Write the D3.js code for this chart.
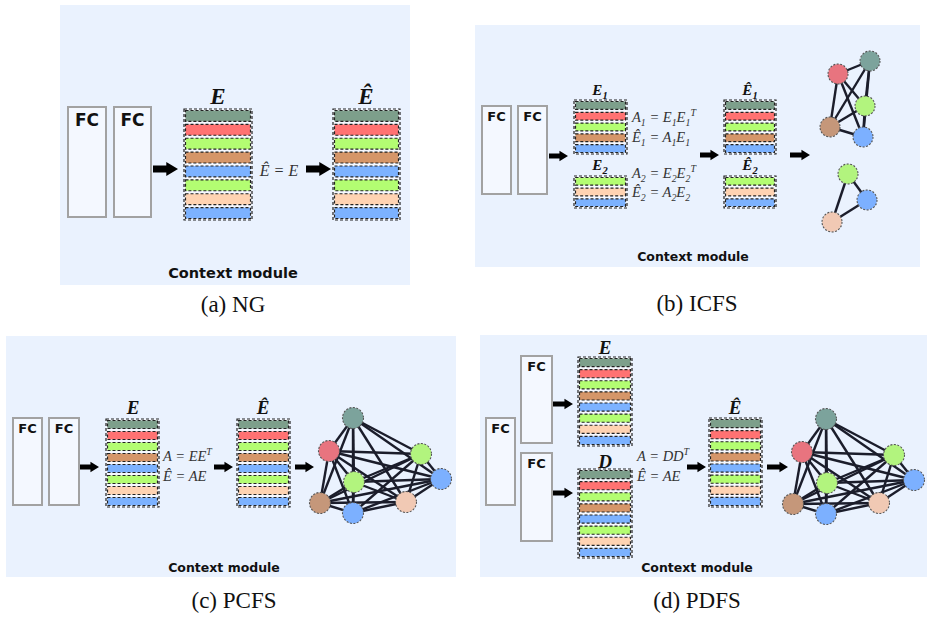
<!DOCTYPE html>
<html>
<head>
<meta charset="utf-8">
<script src="https://cdn.jsdelivr.net/npm/d3@7"></script>
<style>
  body { margin: 0; background: #fff; }
  svg { display: block; }
</style>
</head>
<body>
<div id="fig"></div>
<script>
// --- contenu du schéma ---
var stackFull = ["teal", "red", "green", "brown", "blue", "green", "peach", "blue"];
var stackE1 = ["teal", "red", "green", "brown", "blue"];
var stackE2 = ["green", "peach", "blue"];
var graphK5 = ["red", "teal", "green", "brown", "blue"];
var graphK3 = ["green", "blue", "peach"];
var graphK8 = ["teal", "red", "green", "green", "blue", "brown", "blue", "peach"];
var captions = ["(a) NG", "(b) ICFS", "(c) PCFS", "(d) PDFS"];
var moduleTitle = "Context module";
var fcLabel = "FC";

// couleurs
var barColor = { teal: "#7d9f8b", red: "#ff7272", green: "#b3fd72", brown: "#d59669", blue: "#7cb2ff", peach: "#ffd3b2" };
var nodeColor = { teal: "#7ca39c", red: "#e8747f", green: "#b2f47e", brown: "#c5977a", blue: "#7cb0ff", peach: "#f1c9b4" };

var width = 927, height = 617;
var svg = d3.select("#fig").append("svg").attr("width", width).attr("height", height);

var SANS = "DejaVu Sans";
var SERIF = "Liberation Serif";

function panelBg(x, y, w, h) {
  svg.append("rect").attr("x", x).attr("y", y).attr("width", w).attr("height", h).attr("fill", "#eaf2fe");
}

function fcBox(x, y, w, h, fs) {
  svg.append("rect").attr("x", x).attr("y", y).attr("width", w).attr("height", h)
    .attr("fill", "#f4f8ff").attr("stroke", "#a2a2a2").attr("stroke-width", 2);
  svg.append("text").attr("x", x + w / 2).attr("y", y + fs + 2).attr("text-anchor", "middle")
    .attr("font-family", SANS).attr("font-weight", "bold").attr("font-size", fs).attr("fill", "#111")
    .text(fcLabel);
}

// pile de vecteurs (barres colorées) via une échelle de bandes
function drawStack(x, y0, y1, w, cols) {
  var yb = d3.scaleBand().domain(d3.range(cols.length)).range([y0, y1]);
  svg.append("rect").attr("x", x).attr("y", y0).attr("width", w).attr("height", y1 - y0)
    .attr("fill", "#f5f8ff").attr("stroke", "#222").attr("stroke-width", 1.2).attr("stroke-dasharray", "3,2");
  svg.append("g").selectAll("rect").data(cols).enter().append("rect")
    .attr("x", x + 1.5)
    .attr("y", function(d, i) { return yb(i) + 1.5; })
    .attr("width", w - 3)
    .attr("height", yb.bandwidth() - 3)
    .attr("fill", function(d) { return barColor[d]; })
    .attr("stroke", "#222").attr("stroke-width", 1.2).attr("stroke-dasharray", "3,2");
}

function arrow(x1, x2, y, s) {
  var hl = s * 0.45, sh = s * 0.13, hh = s * 0.27;
  var p = "M" + x1 + "," + (y - sh) + "L" + (x2 - hl) + "," + (y - sh) + "L" + (x2 - hl) + "," + (y - hh) +
    "L" + x2 + "," + y + "L" + (x2 - hl) + "," + (y + hh) + "L" + (x2 - hl) + "," + (y + sh) +
    "L" + x1 + "," + (y + sh) + "Z";
  svg.append("path").attr("d", p).attr("fill", "#000");
}

function label(x, y, fs, str) {
  svg.append("text").attr("x", x).attr("y", y).attr("text-anchor", "middle")
    .attr("font-family", SERIF).attr("font-style", "italic").attr("font-weight", "bold")
    .attr("font-size", fs).attr("fill", "#111").text(str);
}

function subLabel(x, y, fs, str, sub) {
  var t = svg.append("text").attr("x", x).attr("y", y).attr("text-anchor", "middle")
    .attr("font-family", SERIF).attr("font-style", "italic").attr("font-weight", "bold")
    .attr("font-size", fs).attr("fill", "#111");
  t.append("tspan").text(str);
  t.append("tspan").attr("dy", fs * 0.25).attr("font-size", fs * 0.7).text(sub);
}

// ligne mathématique: chaines normales, {sub:..} ou {sup:..}
function mathLine(x, y, fs, tokens, anchor) {
  var t = svg.append("text").attr("x", x).attr("y", y).attr("text-anchor", anchor || "start")
    .attr("font-family", SERIF).attr("font-style", "italic").attr("font-size", fs).attr("fill", "#333");
  var shift = 0;
  tokens.forEach(function(tok) {
    var s, target, size;
    if (typeof tok === "string") { s = tok; target = 0; size = fs; }
    else if (tok.sub !== undefined) { s = tok.sub; target = fs * 0.28; size = fs * 0.68; }
    else { s = tok.sup; target = -fs * 0.42; size = fs * 0.68; }
    t.append("tspan").attr("dy", target - shift).attr("font-size", size).text(s);
    shift = target;
  });
}

function graph(cols, pos, dx, dy, r, sw) {
  var nodes = cols.map(function(c, i) { return { c: c, x: pos[i][0] + dx, y: pos[i][1] + dy }; });
  var edges = [];
  for (var i = 0; i < nodes.length; i++)
    for (var j = i + 1; j < nodes.length; j++) edges.push([nodes[i], nodes[j]]);
  svg.append("g").selectAll("line").data(edges).enter().append("line")
    .attr("x1", function(d) { return d[0].x; }).attr("y1", function(d) { return d[0].y; })
    .attr("x2", function(d) { return d[1].x; }).attr("y2", function(d) { return d[1].y; })
    .attr("stroke", "#1b1d2b").attr("stroke-width", sw);
  svg.append("g").selectAll("circle").data(nodes).enter().append("circle")
    .attr("cx", function(d) { return d.x; }).attr("cy", function(d) { return d.y; }).attr("r", r)
    .attr("fill", function(d) { return nodeColor[d.c]; })
    .attr("stroke", "#555").attr("stroke-width", 1.1).attr("stroke-dasharray", "2,1.5");
}

function title(x, y, fs) {
  svg.append("text").attr("x", x).attr("y", y).attr("text-anchor", "middle")
    .attr("font-family", SANS).attr("font-weight", "bold").attr("font-size", fs).attr("fill", "#111")
    .text(moduleTitle);
}

function caption(x, y, str) {
  svg.append("text").attr("x", x).attr("y", y).attr("text-anchor", "middle")
    .attr("font-family", SERIF).attr("font-size", 23).attr("fill", "#111").text(str);
}

// positions des noeuds
var posK5 = [[838, 74], [870, 61], [865, 106], [830, 127], [863, 137]];
var posK3 = [[848, 174], [867, 200], [832, 222]];
var posK8 = [[353, 418], [329, 451], [421, 454], [354, 482], [441, 479], [320, 503], [353, 513], [406, 502]];

// (a) NG
panelBg(60, 5, 350, 280);
fcBox(68, 107, 38, 110, 17);
fcBox(114, 107, 37, 110, 17);
arrow(153, 178, 169, 26);
drawStack(184, 109, 220, 68, stackFull);
label(218, 104, 23, "E");
mathLine(279, 176, 16, ["Ê = E"], "middle");
arrow(306, 331, 169, 26);
drawStack(333, 109, 220, 67, stackFull);
label(366, 104, 23, "Ê");
title(233, 278, 14.5);
caption(233, 312, captions[0]);

// (b) ICFS
panelBg(475, 25, 445, 242);
fcBox(482, 106, 29, 88, 13);
fcBox(518, 106, 29, 88, 13);
arrow(549, 568, 156, 19);
drawStack(574, 100, 154, 53, stackE1);
subLabel(600, 95, 15, "E", "1");
drawStack(574, 176, 208, 53, stackE2);
subLabel(600, 170, 15, "E", "2");
mathLine(632, 122, 14.5, ["A", { sub: "1" }, " = E", { sub: "1" }, "E", { sub: "1" }, { sup: "T" }]);
mathLine(632, 142, 14.5, ["Ê", { sub: "1" }, " = A", { sub: "1" }, "E", { sub: "1" }]);
mathLine(632, 178, 14.5, ["A", { sub: "2" }, " = E", { sub: "2" }, "E", { sub: "2" }, { sup: "T" }]);
mathLine(632, 197, 14.5, ["Ê", { sub: "2" }, " = A", { sub: "2" }, "E", { sub: "2" }]);
arrow(700, 719, 155, 19);
drawStack(724, 100, 154, 52, stackE1);
subLabel(750, 95, 15, "Ê", "1");
drawStack(724, 176, 208, 52, stackE2);
subLabel(750, 170, 15, "Ê", "2");
arrow(790, 810, 155, 19);
graph(graphK5, posK5, 0, 0, 10, 2.4);
graph(graphK3, posK3, 0, 0, 10, 2.4);
title(693, 261, 12.5);
caption(697, 311, captions[1]);

// (c) PCFS
panelBg(6, 336, 450, 241);
fcBox(13, 418, 29, 87, 13);
fcBox(49, 418, 30, 87, 13);
arrow(80, 99, 467, 19);
drawStack(106, 419, 507, 53, stackFull);
label(133, 414, 19, "E");
mathLine(163, 461, 14.5, ["A = EE", { sup: "T" }]);
mathLine(163, 481, 14.5, ["Ê = AE"]);
arrow(214, 233, 467, 19);
drawStack(237, 419, 507, 53, stackFull);
label(263, 414, 19, "Ê");
arrow(295, 314, 467, 19);
graph(graphK8, posK8, 0, 0, 10.5, 2.4);
title(224, 572, 12.5);
caption(234, 608, captions[2]);

// (d) PDFS
panelBg(480, 335, 447, 242);
fcBox(486, 418, 29, 87, 13);
fcBox(521, 356, 31, 87, 13);
fcBox(521, 453, 31, 88, 13);
arrow(553, 573, 404, 19);
arrow(553, 573, 493, 19);
drawStack(578, 357, 446, 54, stackFull);
label(605, 354, 19, "E");
drawStack(578, 469, 558, 54, stackFull);
label(605, 468, 19, "D");
mathLine(637, 461, 14.5, ["A = DD", { sup: "T" }]);
mathLine(637, 481, 14.5, ["Ê = AE"]);
arrow(687, 706, 467, 19);
drawStack(709, 418, 507, 53, stackFull);
label(735, 414, 19, "Ê");
arrow(767, 788, 467, 19);
graph(graphK8, posK8, 473, 1, 10.5, 2.4);
title(697, 572, 12.5);
caption(697, 608, captions[3]);
</script>
</body>
</html>
